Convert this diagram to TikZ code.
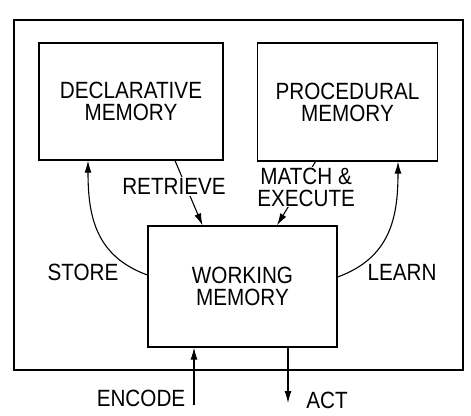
\documentclass[tikz,border=0pt]{standalone}
\usepackage{fontspec}
\setmainfont{Liberation Sans}[FakeStretch=0.88]
\usetikzlibrary{positioning,arrows.meta}

\tikzset{
  membox/.style={draw, line width=1.2pt, align=center, inner sep=0pt},
  lbl/.style={align=center, inner sep=1pt},
  flow/.style={line width=1.1pt, -{Latex[length=12pt,width=7pt]}},
}

\begin{document}
\begin{tikzpicture}[x=1pt, y=-1pt, font=\fontsize{23.5}{22}\selectfont]
  \useasboundingbox (0,0) rectangle (471,415);
  \node[membox, minimum width=449pt, minimum height=350pt] (system) at (238.5,195) {};
  \node[membox, minimum width=184pt, minimum height=117pt] (decl) at (131,101.5) {DECLARATIVE\\MEMORY};
  \node[membox, minimum width=180pt, minimum height=118pt] (proc) at (347.5,102) {PROCEDURAL\\MEMORY};
  \node[membox, minimum width=189pt, minimum height=121pt] (wm) at (242.5,286.5) {WORKING\\MEMORY};

  % retrieve / match from the memories down into working memory
  \draw[flow] ([xshift=44pt]decl.south) -- node[lbl, fill=white, pos=0.4, xshift=-12pt] (retrieve) {RETRIEVE} ([xshift=-40pt]wm.north);
  \draw[flow] ([xshift=-32pt]proc.south) -- node[lbl, fill=white, pos=0.4, xshift=6pt] (match) {MATCH \&\\EXECUTE} ([xshift=34.5pt]wm.north);

  % store / learn back up
  \draw[flow] ([yshift=11.5pt]wm.west) to[out=160, in=-90, looseness=1.1] ([xshift=-43pt]decl.south);
  \draw[flow] ([yshift=9.5pt]wm.east) to[out=20, in=-90, looseness=1.1] ([xshift=50.5pt]proc.south);
  \node[lbl] (store) at (83,272) {STORE};
  \node[lbl] (learn) at (402,272) {LEARN};

  % outside world
  \coordinate (encin) at (194,405);
  \coordinate (actout) at (288,403);
  \draw[flow] (encin) -- (encin |- wm.south);
  \draw[flow] (wm.south -| actout) -- (actout);
  \node[lbl] (encode) at (141,398) {ENCODE};
  \node[lbl] (act) at (327,400) {ACT};
\end{tikzpicture}
\end{document}
